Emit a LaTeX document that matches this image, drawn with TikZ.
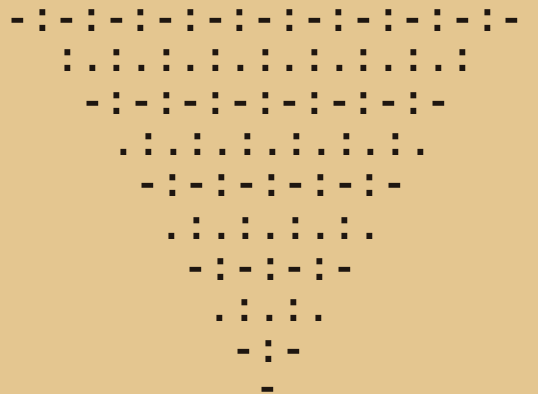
\documentclass[tikz,border=0pt]{standalone}
\usepackage{fontspec}
\newfontfamily\typefont{Liberation Mono}
\definecolor{paper}{RGB}{228,198,144}
\definecolor{ink}{RGB}{30,22,16}
\begin{document}
\begin{tikzpicture}[
    x=1pt, y=-1pt,
    every node/.style={font=\typefont\bfseries\fontsize{41.2}{48}\selectfont, text=ink},
    row/.style={inner sep=0pt, anchor=base}
]
% Paper
\fill[paper] (0,0) rectangle (538,394);
\useasboundingbox (0,0) rectangle (538,394);

% Typed rows
\node[row] (r1) at (265, 31.5) {-:-:-:-:-:-:-:-:-:-:-};
\node[row] (r2) at (265.5, 71.5) {:.:.:.:.:.:.:.:.:};
\node[row] (r3) at (265.5, 114.5) {-:-:-:-:-:-:-:-};
\node[row] (r4) at (272.5, 155.5) {.:.:.:.:.:.:.};
\node[row] (r5) at (271.5, 196.5) {-:-:-:-:-:-};
\node[row] (r6) at (271, 239.5) {.:.:.:.:.};
\node[row] (r7) at (270.5, 280.5) {-:-:-:-};
\node[row] (r8) at (269.5, 321.5) {.:.:.};
\node[row] (r9) at (269, 362.5) {-:-};
\node[row] (r10) at (268, 400) {-};
\end{tikzpicture}
\end{document}
